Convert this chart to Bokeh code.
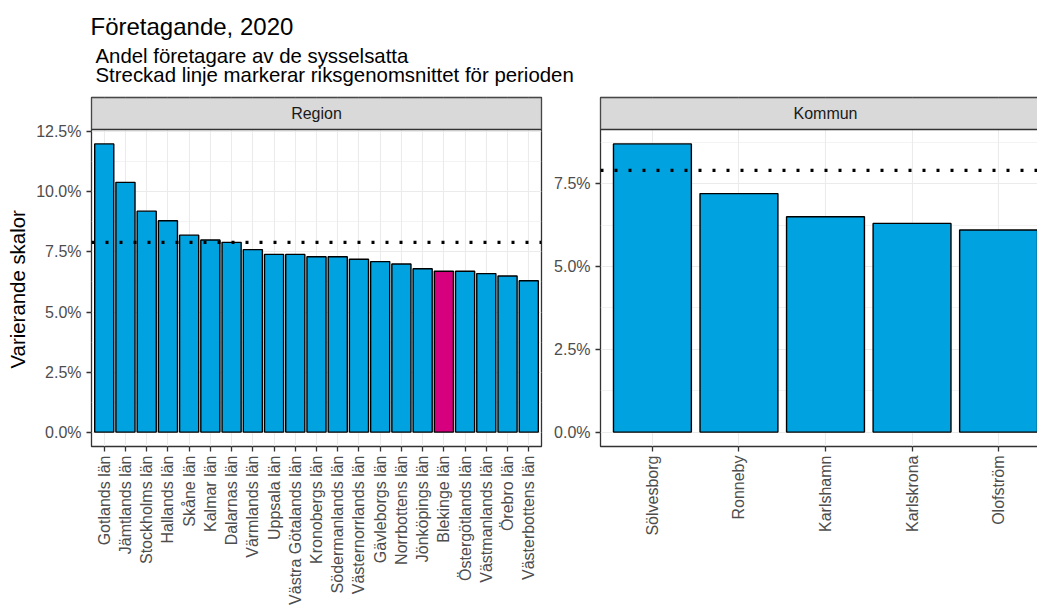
import math
from bokeh.plotting import figure
from bokeh.layouts import row, column
from bokeh.models import (ColumnDataSource, FixedTicker, PrintfTickFormatter, Span,
                          BoxAnnotation, Label, Title, Range1d)
from bokeh.embed import file_html
from bokeh.resources import INLINE

# ---------------- data ----------------
region_names = ["Gotlands län", "Jämtlands län", "Stockholms län", "Hallands län", "Skåne län",
                "Kalmar län", "Dalarnas län", "Värmlands län", "Uppsala län", "Västra Götalands län",
                "Kronobergs län", "Södermanlands län", "Västernorrlands län", "Gävleborgs län",
                "Norrbottens län", "Jönköpings län", "Blekinge län", "Östergötlands län",
                "Västmanlands län", "Örebro län", "Västerbottens län"]
region_values = [12.0, 10.4, 9.2, 8.8, 8.2, 8.0, 7.9, 7.6, 7.4, 7.4, 7.3, 7.3, 7.2, 7.1,
                 7.0, 6.8, 6.7, 6.7, 6.6, 6.5, 6.3]
kommun_names = ["Sölvesborg", "Ronneby", "Karlshamn", "Karlskrona", "Olofström"]
kommun_values = [8.7, 7.2, 6.5, 6.3, 6.1]
riks_avg = 7.9
highlight = "Blekinge län"
region_ticks = [0, 2.5, 5, 7.5, 10, 12.5]
kommun_ticks = [0, 2.5, 5, 7.5]

title_text = "Företagande, 2020"
subtitle_text = "Andel företagare av de sysselsatta\nStreckad linje markerar riksgenomsnittet för perioden"
ylabel_text = "Varierande skalor"

# ---------------- style ----------------
FONT = "Liberation Sans"
BLUE = "#00a3e0"
MAGENTA = "#d6007f"
BORDER = "#333333"
GRID = "#ebebeb"
TICKTXT = "#4d4d4d"
PANEL_W = 450
PANEL_H = 317
STRIP_H = 32
LEFT1 = 90


def make_panel(names, values, ticks, strip, visible_w, left_border, right_border):
    n = len(names)
    xs = list(range(1, n + 1))
    colors = [MAGENTA if nm == highlight else BLUE for nm in names]
    src = ColumnDataSource(dict(x=xs, value=values, color=colors, name=names))

    unit_px = PANEL_W / (n - 1 + 1.2)
    x0 = 1 - 0.6
    x1 = x0 + visible_w / unit_px
    vmax = max(values)
    lo = -0.05 * vmax
    hi = 1.05 * vmax
    strip_units = (hi - lo) * STRIP_H / PANEL_H

    p = figure(frame_width=visible_w, frame_height=PANEL_H + STRIP_H,
               x_range=Range1d(x0, x1), y_range=Range1d(lo, hi + strip_units),
               output_backend="svg", toolbar_location=None,
               min_border_left=left_border, min_border_right=right_border,
               min_border_top=1, min_border_bottom=0,
               background_fill_color="white", border_fill_color="white")
    p.outline_line_color = BORDER
    p.outline_line_width = 1.3

    p.vbar(x="x", top="value", bottom=0, width=0.9, fill_color="color",
           line_color="black", line_width=1.4, source=src)

    # grid
    p.xgrid.ticker = FixedTicker(ticks=xs)
    p.xgrid.grid_line_color = GRID
    p.xgrid.grid_line_width = 1.1
    minor = [t + 1.25 for t in ticks if t + 1.25 < hi]
    yt = FixedTicker(ticks=ticks, minor_ticks=minor)
    p.yaxis.ticker = yt
    p.ygrid.ticker = yt
    p.ygrid.grid_line_color = GRID
    p.ygrid.grid_line_width = 1.1
    p.ygrid.minor_grid_line_color = GRID
    p.ygrid.minor_grid_line_width = 0.6

    # axes
    p.xaxis.ticker = FixedTicker(ticks=xs)
    p.xaxis.major_label_overrides = {x: nm for x, nm in zip(xs, names)}
    p.xaxis.major_label_orientation = math.pi / 2
    p.yaxis.formatter = PrintfTickFormatter(format="%.1f%%")
    for ax in (p.xaxis[0], p.yaxis[0]):
        ax.axis_line_color = None
        ax.major_tick_line_color = BORDER
        ax.major_tick_line_width = 1.3
        ax.major_tick_out = 5
        ax.major_tick_in = 0
        ax.minor_tick_line_color = None
        ax.major_label_text_font = FONT
        ax.major_label_text_font_size = "16px"
        ax.major_label_text_color = TICKTXT
        ax.major_label_standoff = 5
    p.xaxis[0].major_label_standoff = 4

    # reference line
    p.add_layout(Span(location=riks_avg, dimension="width", line_color="black",
                      line_width=3.3, line_dash="3 11"))

    # strip
    p.add_layout(BoxAnnotation(bottom=hi, fill_color="#d9d9d9", fill_alpha=1.0,
                               line_color=BORDER, line_width=1.3, line_alpha=1.0))
    p.add_layout(Label(x=(1 + n) / 2, y=hi + strip_units / 2, text=strip,
                       text_align="center", text_baseline="middle",
                       text_font=FONT, text_font_size="16px", text_color="#1a1a1a"))
    return p


p1 = make_panel(region_names, region_values, region_ticks, "Region", PANEL_W, LEFT1, 10)
p2 = make_panel(kommun_names, kommun_values, kommun_ticks, "Kommun", 439, 48, 0)

ylab = Title(text=ylabel_text, text_font=FONT, text_font_size="20.4px",
             text_font_style="normal", text_color="black", align="left",
             offset=78, standoff=9)
p1.add_layout(ylab, "left")

# header with title and subtitle
header = figure(width=1037, height=96, output_backend="svg", toolbar_location=None,
                min_border_left=LEFT1, min_border_right=0, min_border_top=88,
                min_border_bottom=0, x_axis_location=None, y_axis_location=None,
                x_range=Range1d(0, 1), y_range=Range1d(0, 1))
header.outline_line_color = None
header.grid.visible = False
sub = Title(text=subtitle_text, text_font=FONT, text_font_size="20.4px",
            text_font_style="normal", text_color="black", offset=5, standoff=4,
            text_line_height=0.9)
header.add_layout(sub, "above")
main = Title(text=title_text, text_font=FONT, text_font_size="24px",
             text_font_style="normal", text_color="black", offset=0, standoff=1)
header.add_layout(main, "above")

layout = column(header, row(p1, p2))
open("out.html", "w").write(file_html(layout, INLINE))
